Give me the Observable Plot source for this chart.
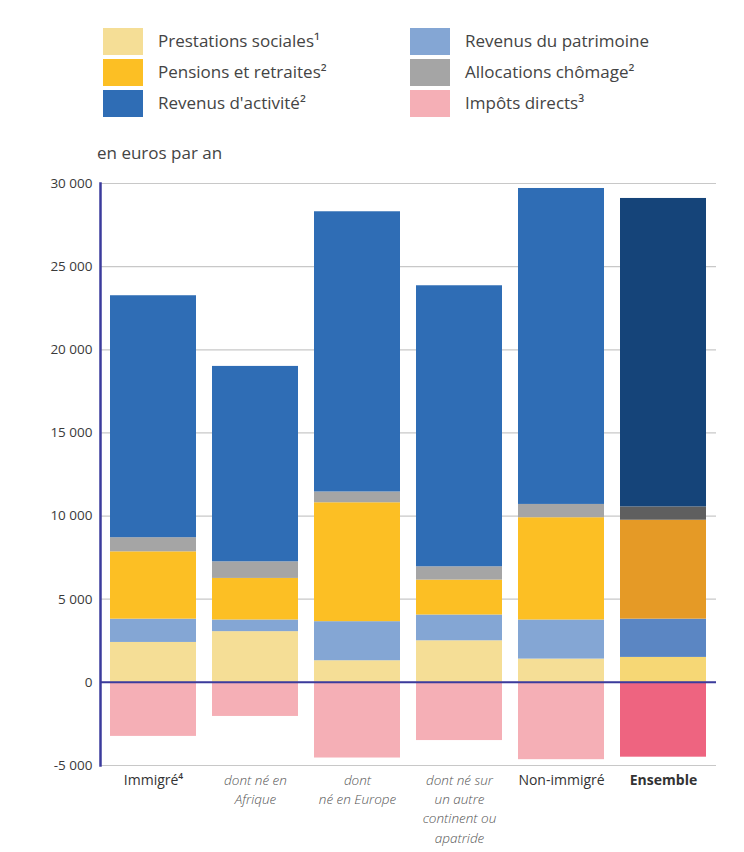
<!DOCTYPE html>
<html>
<head>
<meta charset="utf-8">
<script src="https://cdn.jsdelivr.net/npm/d3@7"></script>
<script src="https://cdn.jsdelivr.net/npm/@observablehq/plot@0.6"></script>
<style>
  body { margin: 0; background: #fff; font-family: "Open Sans", sans-serif; }
  #wrap { position: relative; width: 744px; height: 852px; overflow: hidden; }
  .sw { position: absolute; width: 40px; height: 27px; }
  .lt { position: absolute; font-size: 17px; color: #444; line-height: 27px; white-space: nowrap; }
  #unit { position: absolute; left: 97px; top: 141px; font-size: 17px; color: #444; }
  #chart { position: absolute; left: 0; top: 170px; }
</style>
</head>
<body>
<div id="wrap">
  <div id="legend"></div>
  <div id="unit">en euros par an</div>
  <div id="chart"></div>
</div>
<script>
const categories = ["Immigré", "Afrique", "Europe", "Autre", "Non-immigré", "Ensemble"];
const tickLabels = ["Immigré⁴", "dont né en\nAfrique", "dont\nné en Europe", "dont né sur\nun autre\ncontinent ou\napatride", "Non-immigré", "Ensemble"];
const seriesNames = ["Prestations sociales¹", "Revenus du patrimoine", "Pensions et retraites²", "Allocations chômage²", "Revenus d'activité²", "Impôts directs³"];
const prestations = [2400, 3050, 1300, 2500, 1400, 1500];
const patrimoine = [1400, 700, 2350, 1550, 2350, 2300];
const pensions = [4050, 2500, 7150, 2100, 6150, 5950];
const chomage = [850, 1000, 650, 800, 800, 800];
const activite = [14550, 11750, 16850, 16900, 19000, 18550];
const impots = [-3250, -2050, -4550, -3500, -4650, -4500];
const seriesColors = ["#F5DE96", "#84A6D4", "#FCBF24", "#A5A5A5", "#2F6DB5", "#F5AFB6"];
const ensembleColors = ["#F6D775", "#5B86C3", "#E59A26", "#5F5F5F", "#154479", "#EE6480"];
const legendOrder = [0, 2, 4, 1, 3, 5];

const seriesValues = [prestations, patrimoine, pensions, chomage, activite, impots];
const rows = [];
categories.forEach((c, i) => {
  seriesValues.forEach((vals, s) => {
    rows.push({cat: c, series: seriesNames[s], value: vals[i],
      color: c === "Ensemble" ? ensembleColors[s] : seriesColors[s]});
  });
});

// legend
const legend = document.getElementById("legend");
legendOrder.forEach((s, k) => {
  const col = Math.floor(k / 3), row = k % 3;
  const top = 28 + row * 31;
  const left = col === 0 ? 103 : 410;
  const sw = document.createElement("div");
  sw.className = "sw"; sw.style.left = left + "px"; sw.style.top = top + "px";
  sw.style.background = seriesColors[s];
  legend.appendChild(sw);
  const t = document.createElement("div");
  t.className = "lt"; t.style.left = (left + 55) + "px"; t.style.top = (top - 1) + "px";
  t.textContent = seriesNames[s];
  legend.appendChild(t);
});

const labelOf = new Map(categories.map((c, i) => [c, tickLabels[i]]));
const fmt = d => d3.format(",")(d).replace(/,/g, " ").replace("−", "-");
const font = "Open Sans";

const chart = Plot.plot({
  width: 744,
  height: 682,
  marginTop: 13,
  marginBottom: 87,
  marginLeft: 100,
  marginRight: 28,
  style: {fontFamily: font, background: "transparent"},
  x: {domain: categories, paddingInner: 0.16, paddingOuter: 0.08, axis: null, label: null},
  y: {domain: [-5000, 30000], ticks: d3.range(-5000, 30001, 5000), axis: null, label: null},
  color: {type: "identity"},
  marks: [
    Plot.gridY(d3.range(-5000, 30001, 5000), {stroke: "#c8c8c8", strokeOpacity: 1, strokeWidth: 1.2}),
    Plot.barY(rows, Plot.stackY({order: null}, {x: "cat", y: "value", fill: "color"})),
    Plot.ruleY([0], {stroke: "#3b3b9c", strokeWidth: 2}),
    Plot.frame({anchor: "left", stroke: "#3b3b9c", strokeWidth: 2.5}),
    Plot.axisY({ticks: d3.range(-5000, 30001, 5000), tickFormat: fmt, label: null, tickSize: 0, tickPadding: 8, fontSize: 13.5, fill: "#3a3a3a", fontFamily: font}),
    Plot.axisX({ticks: [categories[0], categories[4]], tickFormat: d => labelOf.get(d), label: null, tickSize: 0, tickPadding: 6, fontSize: 14, lineHeight: 1.32, fill: "#333", fontFamily: font}),
    Plot.axisX({ticks: categories.slice(1, 4), tickFormat: d => labelOf.get(d), label: null, tickSize: 0, tickPadding: 6, fontSize: 13.5, lineHeight: 1.42, fill: "#555", fontStyle: "italic", fontWeight: 300, fontFamily: font}),
    Plot.axisX({ticks: [categories[5]], tickFormat: d => labelOf.get(d), label: null, tickSize: 0, tickPadding: 6, fontSize: 14, lineHeight: 1.32, fill: "#333", fontWeight: "bold", fontFamily: font})
  ]
});
document.getElementById("chart").appendChild(chart);
</script>
</body>
</html>
